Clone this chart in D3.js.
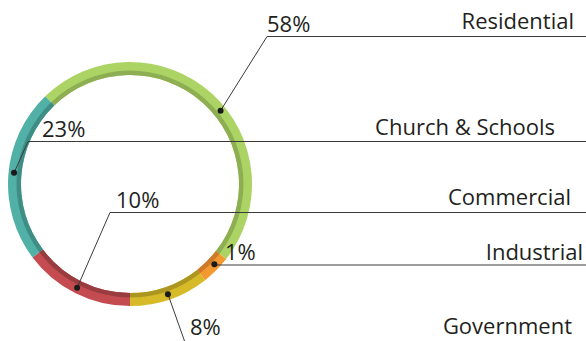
<!DOCTYPE html>
<html>
<head>
<meta charset="utf-8">
<script src="https://cdn.jsdelivr.net/npm/d3@7/dist/d3.min.js"></script>
<style>
  html, body { margin: 0; padding: 0; background: #fff; }
  svg { display: block; }
  text { font-family: 'Open Sans', sans-serif; fill: #231f20; }
</style>
</head>
<body>
<svg id="chart" width="586" height="341"></svg>
<script>
'use strict';

// categories and their shares (labels)
var categories = ['Residential', 'Church & Schools', 'Commercial', 'Industrial', 'Government'];
var shares = [58, 23, 10, 1, 8];
// sweep of each ring segment as drawn in the picture (degrees) -- not proportional to share
var arcSpan = [172, 83, 53, 14, 38];
// angle where each leader dot sits on the ring (degrees, clockwise from top)
var dotAngle = [51, 275.5, 207, 133.6, 161];
// ring order, clockwise from the teal/green seam
var ringOrder = ['Residential', 'Industrial', 'Government', 'Commercial', 'Church & Schools'];

var colors = {
  'Residential': ['#acd465', '#8eae53'],
  'Church & Schools': ['#52b1a6', '#3f8e86'],
  'Commercial': ['#c44c51', '#993c40'],
  'Industrial': ['#f3992f', '#cc7a27'],
  'Government': ['#d6ba28', '#ad9620']
};

// leader layout: elbow point, line y, pct label x, category label right edge
var layout = {
  'Residential': { ex: 267, ly: 36.5, px: 267, tx: 574, ty: 29 },
  'Church & Schools': { ex: 28, ly: 141.5, px: 42, tx: 555, ty: 135 },
  'Commercial': { ex: 110, ly: 212.5, px: 116, tx: 571, ty: 205 },
  'Industrial': { ex: null, ly: 265, px: 225, tx: 583, ty: 260 },
  'Government': { ex: 187, ly: 348, px: 190, tx: 572, ty: 334, pty: 335 }
};

var svg = d3.select('#chart');
var cx = 130, cy = 184;
var outerR = 122, innerR = 109, shadeR = 113.5, dotR = 116.5;
var rad = Math.PI / 180;
var fontSize = '22px';

var data = ringOrder.map(function (name) {
  var i = categories.indexOf(name);
  return { name: name, span: arcSpan[i] };
});

var pie = d3.pie()
  .sort(null)
  .value(function (d) { return d.span; })
  .startAngle(-44 * rad)
  .endAngle(316 * rad);

var arcs = pie(data);
var ring = svg.append('g').attr('transform', 'translate(' + cx + ',' + cy + ')');

ring.selectAll('path.seg')
  .data(arcs)
  .enter().append('path')
  .attr('class', 'seg')
  .attr('fill', function (d) { return colors[d.data.name][0]; })
  .attr('d', d3.arc().innerRadius(innerR).outerRadius(outerR));

ring.selectAll('path.shade')
  .data(arcs)
  .enter().append('path')
  .attr('class', 'shade')
  .attr('fill', function (d) { return colors[d.data.name][1]; })
  .attr('d', d3.arc().innerRadius(innerR).outerRadius(shadeR));

var labels = categories.map(function (name, i) {
  var a = dotAngle[i] * rad;
  return {
    name: name,
    share: shares[i],
    x: cx + dotR * Math.sin(a),
    y: cy - dotR * Math.cos(a),
    l: layout[name]
  };
});

var g = svg.append('g');

g.selectAll('path.leader')
  .data(labels)
  .enter().append('path')
  .attr('class', 'leader')
  .attr('fill', 'none')
  .attr('stroke', '#3a3a3a')
  .attr('stroke-width', 1)
  .attr('d', function (d) {
    var ex = d.l.ex === null ? d.x : d.l.ex;
    return 'M' + d.x + ',' + d.y + 'L' + ex + ',' + d.l.ly + 'L586,' + d.l.ly;
  });

g.selectAll('circle.dot')
  .data(labels)
  .enter().append('circle')
  .attr('class', 'dot')
  .attr('r', 3)
  .attr('fill', '#1a1a1a')
  .attr('cx', function (d) { return d.x; })
  .attr('cy', function (d) { return d.y; });

g.selectAll('text.pct')
  .data(labels)
  .enter().append('text')
  .attr('class', 'pct')
  .attr('font-size', fontSize)
  .attr('x', function (d) { return d.l.px; })
  .attr('y', function (d) { return d.l.pty || d.l.ly - 5; })
  .text(function (d) { return d.share + '%'; });

g.selectAll('text.cat')
  .data(labels)
  .enter().append('text')
  .attr('class', 'cat')
  .attr('font-size', fontSize)
  .attr('text-anchor', 'end')
  .attr('x', function (d) { return d.l.tx; })
  .attr('y', function (d) { return d.l.ty; })
  .text(function (d) { return d.name; });
</script>
</body>
</html>
